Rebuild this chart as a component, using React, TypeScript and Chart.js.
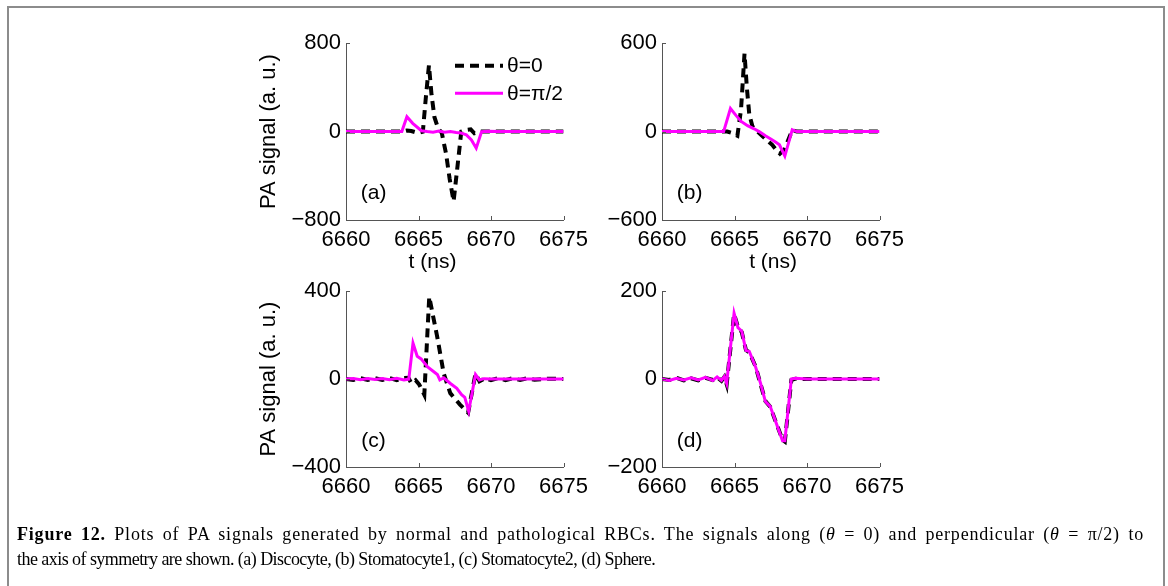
import React, { useEffect, useRef } from "react";
import { Chart, registerables } from "chart.js";
Chart.register(...registerables);

const SANS = "'Liberation Sans', Arial, sans-serif";

// ---- data (t in ns, PA signal in a.u.) ----
const X_TICKS = [6660, 6665, 6670, 6675];

const A_BLACK_T = [6660, 6661, 6662, 6663, 6663.9, 6664.2, 6664.5, 6664.95, 6665.3, 6665.5, 6665.72, 6665.9, 6666.1, 6666.35, 6666.6, 6666.9, 6667.15, 6667.42, 6667.7, 6667.95, 6668.3, 6668.6, 6668.85, 6669.2, 6670, 6671, 6672, 6673, 6674, 6675];
const A_BLACK_V = [0, 0, 0, 0, 0, 10, 5, -12, 0, 300, 600, 330, 130, 30, -10, -200, -430, -630, -300, 0, 15, 20, -15, 0, 0, 0, 0, 0, 0, 0];
const A_MAG_T = [6660, 6661, 6662, 6663, 6663.85, 6664.2, 6664.6, 6665.2, 6665.6, 6666.0, 6666.4, 6666.8, 6667.2, 6667.6, 6667.9, 6668.3, 6668.65, 6668.98, 6669.35, 6669.8, 6670.5, 6671, 6672, 6673, 6674, 6675];
const A_MAG_V = [0, 0, 0, 0, 0, 135, 75, 8, 0, -5, 5, -5, 0, -8, -12, -30, -75, -150, 0, 4, 0, 0, 0, 0, 0, 0];

const B_BLACK_T = [6660, 6662, 6664, 6664.5, 6664.85, 6665.2, 6665.45, 6665.69, 6665.85, 6666.02, 6666.24, 6666.7, 6667.23, 6667.6, 6667.9, 6668.13, 6668.45, 6668.98, 6669.3, 6670, 6672, 6675];
const B_BLACK_V = [0, 0, 0, 0, -10, -28, 150, 530, 300, 115, 35, -10, -57, -90, -127, -150, -120, 10, 0, 0, 0, 0];
const B_MAG_T = [6660, 6662, 6664, 6664.25, 6664.72, 6665.1, 6665.46, 6665.9, 6666.35, 6666.7, 6667.13, 6667.5, 6667.8, 6668.1, 6668.47, 6668.98, 6669.3, 6670, 6672, 6675];
const B_MAG_V = [0, 0, 0, 0, 157, 110, 69, 40, 19, 0, -28, -50, -69, -90, -166, 12, 0, 0, 0, 0];

const C_BLACK_T = [6660, 6660.5, 6661, 6661.5, 6662, 6662.5, 6663, 6663.5, 6664, 6664.3, 6664.51, 6664.8, 6665.05, 6665.4, 6665.74, 6666.3, 6666.74, 6667.19, 6667.86, 6668.42, 6668.93, 6669.2, 6669.6, 6670, 6670.5, 6671, 6671.5, 6672, 6672.5, 6673, 6674, 6675];
const C_BLACK_V = [0, -4, 4, -4, 4, -4, 5, -5, 5, 6, -19, -5, -25, -71, 375, 189, 25, -64, -116, -153, 25, -10, 5, -5, 5, -5, 4, -4, 4, -3, 2, 0];
const C_MAG_T = [6660, 6660.5, 6661, 6661.5, 6662, 6662.5, 6663, 6663.5, 6664, 6664.33, 6664.62, 6664.91, 6665.18, 6665.63, 6666.3, 6666.47, 6666.74, 6667.2, 6667.64, 6667.97, 6668.19, 6668.46, 6668.93, 6669.2, 6669.5, 6670, 6671, 6672, 6673, 6674, 6675];
const C_MAG_V = [0, 3, -3, 3, -2, 3, -3, 4, -4, 0, 164, 104, 92, 55, 21, -4, 6, -20, -42, -71, -83, -146, 21, -4, 2, 0, 0, 0, 0, 0, 0];

const D_T = [6660, 6660.5, 6661, 6661.5, 6662, 6662.5, 6663, 6663.5, 6663.8, 6664.1, 6664.3, 6664.46, 6664.97, 6665.24, 6665.5, 6665.79, 6666.02, 6666.46, 6666.8, 6667.13, 6667.46, 6668.31, 6668.47, 6668.92, 6669.2, 6670, 6672, 6675];
const D_BLACK_V = [0, -2, 3, -3, 2, -3, 3, -2, 4, -4, 5, -12, 148, 118, 107, 66, 61, 28, -12, -50, -63, -138, -142, -2, 1, 0, 0, 0];
const D_MAG_V = [0, -3, 2, -2, 3, -2, 4, -3, 5, -3, 6, -10, 150, 117, 109, 65, 63, 27, -10, -51, -62, -140, -140, 0, 2, 0, 0, 0];

const LEGEND_LABELS = ["θ=0", "θ=π/2"];
const Y_TITLE = "PA signal (a. u.)";
const X_TITLE = "t (ns)";

const pts = (t: number[], v: number[]) => t.map((x, i) => ({ x, y: v[i] }));

type PanelCfg = {
  key: string;
  label: string;
  left: number;
  top: number;
  bottom: number;
  yMax: number;
  black: { x: number; y: number }[];
  mag: { x: number; y: number }[];
  yTitle: boolean;
  xTitleFrac: number | null;
  legend: boolean;
};

const PANELS: PanelCfg[] = [
  { key: "a", label: "(a)", left: 346, top: 42, bottom: 220, yMax: 800, black: pts(A_BLACK_T, A_BLACK_V), mag: pts(A_MAG_T, A_MAG_V), yTitle: true, xTitleFrac: 0.386, legend: true },
  { key: "b", label: "(b)", left: 662, top: 42, bottom: 220, yMax: 600, black: pts(B_BLACK_T, B_BLACK_V), mag: pts(B_MAG_T, B_MAG_V), yTitle: false, xTitleFrac: 0.496, legend: false },
  { key: "c", label: "(c)", left: 346, top: 289.5, bottom: 467, yMax: 400, black: pts(C_BLACK_T, C_BLACK_V), mag: pts(C_MAG_T, C_MAG_V), yTitle: true, xTitleFrac: null, legend: false },
  { key: "d", label: "(d)", left: 662, top: 289.5, bottom: 467, yMax: 200, black: pts(D_T, D_BLACK_V), mag: pts(D_T, D_MAG_V), yTitle: false, xTitleFrac: null, legend: false },
];

const PLOT_W = 224;
const Y_AXIS_W = 96;
const PAD_TOP = 17;
const PAD_RIGHT = 25;
const X_AXIS_H = 60;
const AXIS_COLOR = "#555";

function PanelChart({ cfg }: { cfg: PanelCfg }) {
  const ref = useRef<HTMLCanvasElement | null>(null);
  const plotH = cfg.bottom - cfg.top;
  const W = Y_AXIS_W + PLOT_W + PAD_RIGHT;
  const H = PAD_TOP + plotH + X_AXIS_H;

  useEffect(() => {
    if (!ref.current) return;
    const deco = {
      id: "deco" + cfg.key,
      afterDraw(chart: any) {
        const { ctx, chartArea } = chart;
        const xs = chart.scales.x;
        const ys = chart.scales.y;
        ctx.save();
        ctx.strokeStyle = AXIS_COLOR;
        ctx.lineWidth = 1;
        ctx.beginPath();
        X_TICKS.forEach((v) => {
          const px = Math.round(xs.getPixelForValue(v)) + 0.5;
          ctx.moveTo(px, chartArea.bottom);
          ctx.lineTo(px, chartArea.bottom - 4);
        });
        [-cfg.yMax, 0, cfg.yMax].forEach((v) => {
          const py = Math.round(ys.getPixelForValue(v)) + 0.5;
          ctx.moveTo(chartArea.left, py);
          ctx.lineTo(chartArea.left + 4, py);
        });
        ctx.stroke();
        ctx.fillStyle = "#000";
        ctx.font = `21px ${SANS}`;
        ctx.textAlign = "center";
        ctx.textBaseline = "middle";
        ctx.fillText(cfg.label, chartArea.left + 0.123 * PLOT_W, chartArea.top + 0.845 * plotH);
        if (cfg.xTitleFrac !== null) {
          ctx.font = `21px ${SANS}`;
          ctx.fillText(X_TITLE, chartArea.left + cfg.xTitleFrac * PLOT_W, chartArea.bottom + 42);
        }
        if (cfg.legend) {
          const ds = chart.data.datasets;
          const x0 = chartArea.left + 109;
          const x1 = chartArea.left + 157;
          const rows = [chartArea.top + 22.5, chartArea.top + 50];
          rows.forEach((y, i) => {
            ctx.beginPath();
            ctx.strokeStyle = ds[i].borderColor;
            ctx.lineWidth = ds[i].borderWidth;
            ctx.setLineDash(ds[i].borderDash || []);
            ctx.moveTo(x0, y);
            ctx.lineTo(x1, y);
            ctx.stroke();
            ctx.setLineDash([]);
            ctx.fillStyle = "#000";
            ctx.textAlign = "left";
            ctx.font = `21px ${SANS}`;
            ctx.fillText(LEGEND_LABELS[i], x1 + 4, y + 1);
          });
        }
        ctx.restore();
      },
    };

    const chart = new Chart(ref.current, {
      type: "line",
      data: {
        datasets: [
          { label: LEGEND_LABELS[0], data: cfg.black, borderColor: "#000000", borderWidth: 4, borderDash: [9, 6], pointRadius: 0, tension: 0, fill: false, order: 1 },
          { label: LEGEND_LABELS[1], data: cfg.mag, borderColor: "#ff00ff", borderWidth: 3, pointRadius: 0, tension: 0, fill: false, order: 0 },
        ],
      },
      options: {
        animation: false,
        responsive: false,
        maintainAspectRatio: false,
        events: [],
        layout: { padding: { top: PAD_TOP, right: PAD_RIGHT, left: 0, bottom: 0 } },
        plugins: { legend: { display: false }, tooltip: { enabled: false } },
        scales: {
          x: {
            type: "linear",
            min: 6660,
            max: 6675,
            afterBuildTicks: (s: any) => {
              s.ticks = X_TICKS.map((v) => ({ value: v }));
            },
            ticks: {
              color: "#000",
              font: { family: SANS, size: 22 },
              padding: 7,
              maxRotation: 0,
              autoSkip: false,
              callback: (v: any) => String(v),
            },
            grid: { display: false, drawTicks: false },
            border: { display: true, color: AXIS_COLOR, width: 1 },
            afterFit: (s: any) => {
              s.height = X_AXIS_H;
            },
          },
          y: {
            type: "linear",
            min: -cfg.yMax,
            max: cfg.yMax,
            afterBuildTicks: (s: any) => {
              s.ticks = [-cfg.yMax, 0, cfg.yMax].map((v) => ({ value: v }));
            },
            ticks: {
              color: "#000",
              font: { family: SANS, size: 22 },
              padding: 5,
              autoSkip: false,
              callback: (v: any) => (v < 0 ? "\u2212" + Math.abs(v) : String(v)),
            },
            grid: { display: false, drawTicks: false },
            border: { display: true, color: AXIS_COLOR, width: 1 },
            title: {
              display: cfg.yTitle,
              text: Y_TITLE,
              color: "#000",
              font: { family: SANS, size: 22 },
              padding: { top: 6, bottom: 0 },
            },
            afterFit: (s: any) => {
              s.width = Y_AXIS_W;
            },
          },
        },
      },
      plugins: [deco],
    } as any);
    return () => chart.destroy();
  }, []);

  return (
    <canvas
      ref={ref}
      width={W}
      height={H}
      style={{ position: "absolute", left: cfg.left - Y_AXIS_W, top: cfg.top - PAD_TOP, width: W, height: H }}
    />
  );
}

export default function App() {
  const serif = "'Liberation Serif', 'Times New Roman', serif";
  return (
    <div style={{ position: "absolute", left: 0, top: 0, width: 1168, height: 586, overflow: "hidden", background: "#fff" }}>
      <div
        style={{
          position: "absolute",
          left: 7,
          top: 6,
          width: 1154,
          height: 620,
          border: "2px solid #8c8c8c",
        }}
      />
      {PANELS.map((p) => (
        <PanelChart key={p.key} cfg={p} />
      ))}
      <div
        style={{
          position: "absolute",
          left: 17,
          top: 522,
          width: 1127,
          fontFamily: serif,
          fontSize: 18,
          lineHeight: "25px",
          color: "#000",
        }}
      >
        <div style={{ whiteSpace: "nowrap", textAlign: "justify", textAlignLast: "justify", letterSpacing: "0.8px" }}>
          <b>Figure 12.</b> Plots of PA signals generated by normal and pathological RBCs. The signals along (<i>θ</i> = 0) and perpendicular (<i>θ</i> = π/2) to
        </div>
        <div style={{ whiteSpace: "nowrap", letterSpacing: "-0.55px" }}>
          the axis of symmetry are shown. (a) Discocyte, (b) Stomatocyte1, (c) Stomatocyte2, (d) Sphere.
        </div>
      </div>
    </div>
  );
}
